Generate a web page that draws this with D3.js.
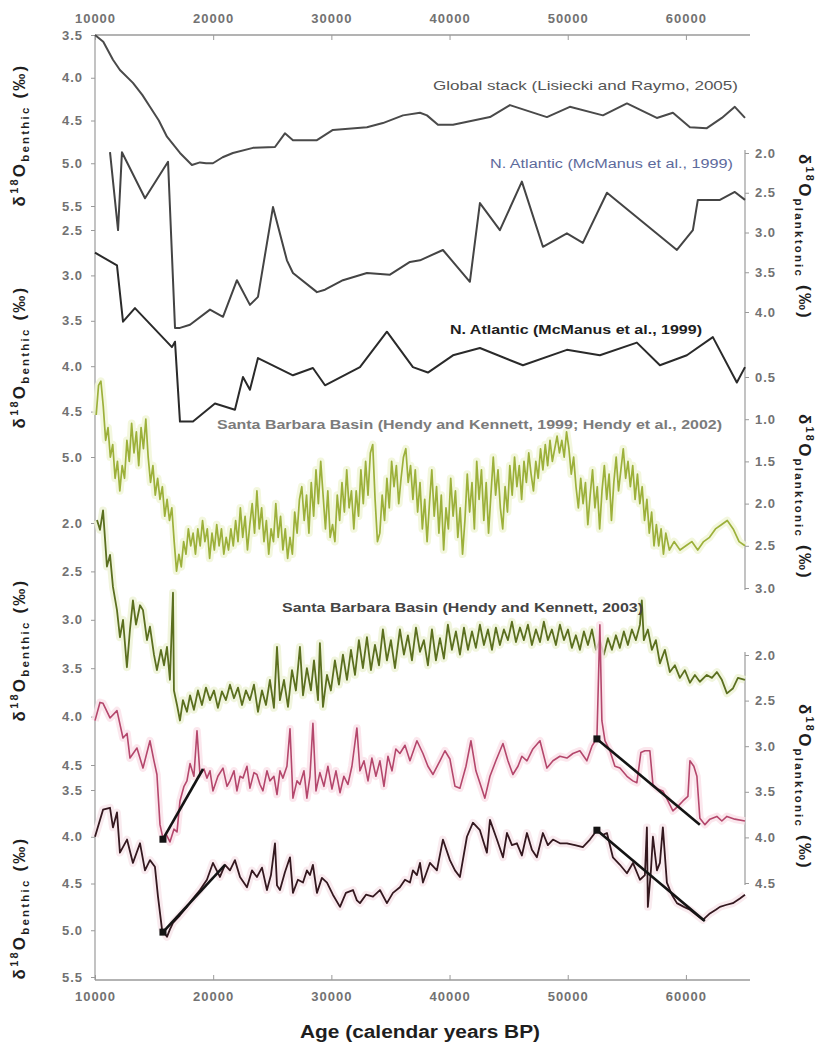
<!DOCTYPE html>
<html><head><meta charset="utf-8">
<script src="https://cdn.jsdelivr.net/npm/d3@7"></script>
<style>body{margin:0;background:#fff}svg{display:block}</style>
</head><body>
<svg id="chart" width="822" height="1046"></svg>
<script>
// ---------------- DATA ----------------
const ageTicks = [10000, 20000, 30000, 40000, 50000, 60000];
const ticksP1 = [3.5, 4.0, 4.5, 5.0, 5.5];
const ticksP2 = [2.0, 2.5, 3.0, 3.5, 4.0];
const ticksP3 = [2.5, 3.0, 3.5, 4.0, 4.5, 5.0];
const ticksP4 = [0.5, 1.0, 1.5, 2.0, 2.5, 3.0];
const ticksP5 = [2.0, 2.5, 3.0, 3.5, 4.0, 4.5];
const ticksP6 = [2.0, 2.5, 3.0, 3.5, 4.0, 4.5];
const ticksP7 = [3.5, 4.0, 4.5, 5.0, 5.5];

const labels = [
  "Global stack (Lisiecki and Raymo, 2005)",
  "N. Atlantic (McManus et al., 1999)",
  "N. Atlantic (McManus et al., 1999)",
  "Santa Barbara Basin (Hendy and Kennett, 1999; Hendy et al., 2002)",
  "Santa Barbara Basin (Hendy and Kennett, 2003)"
];

// Global stack benthic (age, ‰)
const globalStack = [[10000,3.5],[10700,3.58],[11520,3.79],[12110,3.91],[13210,4.06],[14000,4.2],[14650,4.34],[15400,4.5],[16090,4.69],[17190,4.88],[18200,5.02],[18880,4.99],[19400,5.0],[19980,5.0],[20800,4.93],[21670,4.88],[23370,4.82],[25230,4.81],[26070,4.65],[26750,4.73],[28780,4.73],[30130,4.61],[33010,4.58],[34360,4.53],[36060,4.44],[37500,4.41],[38090,4.44],[39020,4.55],[40290,4.55],[43420,4.46],[45110,4.32],[48240,4.46],[50180,4.34],[52980,4.44],[55010,4.30],[57540,4.47],[58900,4.41],[60340,4.58],[61770,4.59],[63040,4.47],[64140,4.34],[65000,4.47]];

// N. Atlantic planktonic
const natlPlank = [[11270,1.99],[11950,2.97],[12280,1.99],[14230,2.57],[16180,2.11],[16770,4.20],[17190,4.20],[18040,4.16],[19730,3.97],[20830,4.06],[22010,3.60],[23110,3.91],[23790,3.81],[25060,2.68],[26240,3.35],[26750,3.51],[28780,3.75],[29460,3.72],[30980,3.60],[33010,3.51],[34960,3.53],[36650,3.37],[37500,3.35],[39440,3.22],[41720,3.62],[42570,2.63],[44260,2.97],[46120,2.36],[47900,3.18],[49930,3.01],[51280,3.13],[53320,2.50],[59240,3.22],[60590,2.97],[61010,2.59],[62880,2.59],[64140,2.49],[65000,2.59]];

// N. Atlantic benthic
const natlBenth = [[10000,2.75],[11860,2.89],[12370,3.51],[13380,3.36],[16510,3.79],[16770,3.73],[17190,4.61],[18290,4.61],[20150,4.41],[21840,4.48],[22520,4.12],[23110,4.26],[23790,3.91],[26750,4.10],[28440,4.02],[29460,4.21],[32420,4.01],[34700,3.62],[36900,4.01],[38170,4.07],[40290,3.88],[42570,3.80],[46210,3.99],[49930,3.82],[52720,3.88],[55850,3.74],[57800,3.99],[60080,3.88],[62280,3.68],[64310,4.18],[65000,4.01]];

// Santa Barbara Basin planktonic (1999/2002)
const sbbPlank = [[10100,0.95],[10300,0.6],[10500,0.55],[10700,0.85],[10900,1.25],[11100,1.1],[11300,1.45],[11500,1.3],[11700,1.7],[11900,1.5],[12100,1.85],[12300,1.55],[12500,1.7],[12700,1.25],[12900,1.5],[13100,1.05],[13300,1.4],[13500,1.15],[13700,1.55],[13900,1.1],[14100,1.35],[14300,1.0],[14500,1.45],[14700,1.75],[14900,1.55],[15100,1.9],[15300,1.7],[15500,1.95],[15700,1.8],[15900,2.15],[16100,1.95],[16300,2.2],[16500,2.05],[16700,2.45],[16900,2.8],[17100,2.6],[17300,2.75],[17500,2.45],[17700,2.6],[17900,2.3],[18100,2.5],[18300,2.35],[18500,2.6],[18700,2.3],[18900,2.5],[19100,2.2],[19300,2.45],[19500,2.3],[19700,2.65],[19900,2.35],[20100,2.55],[20300,2.25],[20500,2.5],[20700,2.3],[20900,2.6],[21100,2.4],[21300,2.55],[21500,2.3],[21700,2.5],[21900,2.2],[22100,2.45],[22300,2.05],[22500,2.4],[22700,2.15],[22900,2.55],[23100,2.25],[23300,2.0],[23500,2.35],[23700,1.85],[23900,2.3],[24100,2.05],[24300,2.45],[24500,2.2],[24700,2.6],[24900,2.3],[25100,2.45],[25300,2.0],[25500,2.4],[25700,2.15],[25900,2.55],[26100,2.3],[26300,2.65],[26500,2.4],[26700,2.6],[26900,2.1],[27100,2.35],[27300,1.95],[27500,1.8],[27700,2.2],[27900,1.9],[28100,2.35],[28300,1.75],[28500,2.15],[28700,1.6],[28900,2.0],[29100,1.5],[29300,1.9],[29500,2.3],[29700,1.85],[29900,2.4],[30100,2.25],[30300,2.45],[30500,1.9],[30700,2.2],[30900,1.75],[31100,2.1],[31300,1.6],[31500,2.05],[31700,1.85],[31900,2.3],[32100,1.85],[32300,2.15],[32500,1.6],[32700,2.0],[32900,1.5],[33100,1.9],[33300,1.4],[33500,1.3],[33700,1.95],[33900,2.45],[34100,2.35],[34300,1.9],[34500,2.2],[34700,1.7],[34900,2.05],[35100,1.5],[35300,1.8],[35500,1.55],[35700,2.0],[35900,1.7],[36100,1.45],[36300,1.35],[36500,1.75],[36700,1.55],[36900,1.95],[37100,1.6],[37300,2.1],[37500,1.75],[37700,2.3],[37900,1.95],[38100,2.45],[38300,2.0],[38500,1.6],[38700,2.15],[38900,1.8],[39100,2.35],[39300,1.9],[39500,2.55],[39700,2.05],[39900,2.3],[40100,1.7],[40300,2.15],[40500,1.85],[40700,2.4],[40900,2.05],[41100,2.6],[41300,2.2],[41500,1.65],[41700,2.1],[41900,1.75],[42100,2.3],[42300,1.5],[42500,1.95],[42700,1.6],[42900,2.2],[43100,1.75],[43300,2.35],[43500,1.9],[43700,1.45],[43900,1.9],[44100,1.6],[44300,2.05],[44500,2.3],[44700,1.8],[44900,2.1],[45100,1.55],[45300,1.9],[45500,1.45],[45700,1.8],[45900,1.55],[46100,1.95],[46300,1.5],[46500,1.75],[46700,1.4],[46900,1.65],[47100,1.85],[47300,1.5],[47500,1.7],[47700,1.35],[47900,1.6],[48100,1.3],[48300,1.55],[48500,1.25],[48700,1.5],[48900,1.35],[49100,1.2],[49300,1.4],[49500,1.25],[49700,1.45],[49900,1.15],[50100,1.35],[50300,1.65],[50500,1.45],[50700,1.8],[50900,2.05],[51100,1.7],[51300,2.0],[51500,1.75],[51700,2.25],[51900,1.9],[52100,1.6],[52300,2.05],[52500,1.8],[52700,2.3],[52900,1.85],[53100,1.55],[53300,1.95],[53500,1.65],[53700,2.2],[53900,1.75],[54100,1.45],[54300,1.85],[54500,1.6],[54700,1.35],[54900,1.7],[55100,1.5],[55300,1.8],[55500,1.55],[55700,1.95],[55900,1.65],[56100,2.0],[56300,1.8],[56500,2.2],[56700,1.95],[56900,2.35],[57100,2.1],[57300,2.5],[57500,2.25],[57700,2.5],[57900,2.3],[58100,2.6],[58300,2.35],[58600,2.55],[59000,2.45],[59500,2.55],[60000,2.5],[60500,2.45],[61000,2.55],[61500,2.45],[62000,2.4],[62500,2.3],[63000,2.25],[63500,2.2],[64000,2.3],[64500,2.45],[65000,2.5]];

// Santa Barbara Basin benthic (2003)
const sbbBenth = [[10170,1.97],[10420,2.07],[10680,1.87],[11010,2.45],[11270,2.33],[11520,2.66],[11860,2.9],[12110,3.18],[12370,3.0],[12700,3.49],[12960,3.1],[13210,2.8],[13470,3.05],[13810,2.85],[14060,2.9],[14400,3.21],[14650,3.07],[14990,3.36],[15240,3.52],[15580,3.31],[15840,3.47],[16090,3.28],[16340,3.62],[16600,2.72],[16680,3.73],[16940,3.88],[17190,4.04],[17440,3.83],[17780,3.95],[18040,3.78],[18370,3.93],[18710,3.73],[19050,3.88],[19390,3.70],[19730,3.83],[20070,3.73],[20400,3.91],[20740,3.74],[21080,3.83],[21420,3.67],[21760,3.81],[22100,3.70],[22440,3.88],[22770,3.73],[23110,3.83],[23450,3.67],[23790,3.95],[24130,3.73],[24470,3.88],[24800,3.62],[25140,3.91],[25400,3.28],[25650,3.83],[25990,3.62],[26330,3.90],[26670,3.52],[27000,3.73],[27340,3.28],[27600,3.78],[27930,3.50],[28270,3.73],[28530,3.42],[28870,3.83],[29030,3.24],[29290,3.90],[29630,3.57],[29960,3.73],[30300,3.42],[30640,3.67],[30980,3.36],[31320,3.62],[31660,3.31],[32000,3.57],[32330,3.21],[32670,3.50],[33010,3.18],[33350,3.52],[33690,3.26],[34030,3.47],[34360,3.1],[34700,3.42],[35040,3.21],[35380,3.50],[35800,3.1],[36140,3.36],[36480,3.16],[36820,3.42],[37160,3.08],[37500,3.33],[37830,3.21],[38170,3.47],[38510,3.1],[38850,3.42],[39190,3.19],[39520,3.40],[39860,3.05],[40200,3.31],[40540,3.12],[40880,3.36],[41220,3.08],[41560,3.31],[41900,3.12],[42230,3.29],[42570,3.05],[42910,3.26],[43250,3.1],[43590,3.31],[43920,3.08],[44260,3.26],[44600,3.1],[44940,3.21],[45280,3.02],[45620,3.23],[45960,3.08],[46290,3.21],[46630,3.05],[46970,3.26],[47310,3.1],[47650,3.23],[47980,3.02],[48320,3.21],[48660,3.1],[49000,3.26],[49340,3.05],[49680,3.21],[50020,3.1],[50350,3.29],[50690,3.16],[51030,3.31],[51370,3.12],[51710,3.26],[52050,3.1],[52390,3.31],[52720,3.21],[53060,3.36],[53400,3.19],[53740,3.31],[54080,3.16],[54410,3.29],[54750,3.12],[55090,3.26],[55430,3.1],[55770,3.21],[56110,3.05],[56270,2.80],[56440,3.21],[56780,3.1],[57120,3.31],[57460,3.21],[57800,3.45],[58220,3.31],[58640,3.54],[59070,3.47],[59490,3.60],[59910,3.52],[60340,3.65],[60760,3.57],[61180,3.64],[61770,3.57],[62200,3.60],[62620,3.54],[63040,3.62],[63470,3.76],[63970,3.71],[64400,3.60],[65000,3.62]];

// Santa Barbara Basin planktonic (pink)
const sbbPlank2 = [[10000,2.72],[10420,2.52],[10680,2.53],[11270,2.69],[11860,2.61],[12370,2.91],[12710,2.86],[12960,3.13],[13550,3.02],[14060,3.24],[14650,2.94],[14990,3.16],[15240,3.31],[15500,3.86],[15750,4.01],[16000,3.96],[16340,4.05],[16680,3.91],[16940,3.94],[17190,3.60],[17530,3.44],[17780,3.38],[18040,3.19],[18370,3.33],[18630,2.83],[18880,3.31],[19220,3.25],[19470,3.35],[19730,3.27],[19980,3.49],[20400,3.33],[20830,3.24],[21170,3.44],[21420,3.38],[21760,3.27],[22010,3.49],[22270,3.33],[22520,3.35],[22860,3.22],[23110,3.46],[23450,3.29],[23700,3.31],[23960,3.42],[24210,3.49],[24550,3.27],[24800,3.38],[25140,3.33],[25400,3.53],[25650,3.27],[25900,3.35],[26240,3.22],[26500,2.81],[26750,3.57],[27090,3.38],[27340,3.42],[27680,3.27],[27930,3.57],[28190,3.33],[28440,2.75],[28700,3.49],[29030,3.29],[29370,3.44],[29710,3.22],[30050,3.47],[30390,3.27],[30730,3.51],[31060,3.33],[31400,3.42],[31740,3.22],[32160,2.80],[32420,3.27],[32760,3.16],[33100,3.38],[33430,3.13],[33770,3.33],[34110,3.16],[34450,3.44],[34790,3.11],[35130,3.27],[35460,3.03],[35800,3.08],[36230,2.99],[36650,3.16],[37240,2.94],[37750,3.08],[38170,3.22],[38600,3.31],[39190,3.16],[39610,3.05],[40030,3.14],[40460,3.44],[40880,3.46],[41390,3.22],[41810,2.94],[42230,3.27],[42660,3.44],[42990,3.57],[43420,3.33],[43920,3.16],[44520,2.97],[44940,3.16],[45360,3.31],[45790,3.22],[46120,3.11],[46550,3.16],[47050,3.03],[47650,2.94],[48240,3.24],[48750,3.16],[49340,3.11],[49930,3.13],[50440,3.08],[51030,3.05],[51620,3.16],[52050,3.0],[52470,2.91],[52720,1.67],[52890,2.72],[53150,2.94],[53570,3.05],[53990,3.22],[54420,3.24],[55010,3.33],[55510,3.38],[55850,3.40],[56190,3.07],[56530,3.05],[56950,3.05],[57210,3.42],[57630,3.47],[58050,3.49],[58480,3.60],[58900,3.71],[59320,3.66],[59750,3.60],[60170,3.55],[60340,3.16],[60670,3.22],[60930,3.33],[61180,3.79],[61610,3.86],[62030,3.80],[62620,3.77],[63040,3.82],[63470,3.77],[64140,3.80],[65000,3.82]];

// Santa Barbara Basin benthic (black)
const sbbBenth2 = [[10000,4.0],[10680,3.71],[11270,3.69],[11520,3.90],[11860,3.74],[12110,4.17],[12710,4.03],[13210,4.28],[13810,4.07],[14230,4.36],[14650,4.25],[15070,4.32],[15330,4.64],[15670,4.99],[16090,5.07],[16340,4.99],[16600,4.92],[17190,4.84],[17780,4.75],[18290,4.66],[18880,4.57],[19470,4.46],[19980,4.28],[20570,4.43],[21000,4.30],[21420,4.36],[21840,4.25],[22270,4.43],[22860,4.54],[23280,4.36],[23700,4.43],[24130,4.33],[24550,4.57],[24890,4.41],[25230,4.07],[25400,4.52],[25650,4.57],[26070,4.38],[26500,4.22],[26750,4.60],[27170,4.46],[27600,4.49],[27930,4.36],[28190,4.41],[28440,4.30],[28780,4.60],[29200,4.44],[29630,4.49],[30130,4.62],[30730,4.75],[31230,4.60],[31830,4.57],[32160,4.68],[32420,4.71],[32930,4.62],[33520,4.64],[34110,4.57],[34700,4.71],[35210,4.60],[35800,4.54],[36230,4.46],[36650,4.49],[36900,4.36],[37240,4.41],[37500,4.28],[37750,4.49],[38340,4.28],[38930,4.36],[39440,4.03],[40030,4.25],[40460,4.36],[40880,4.43],[41470,4.0],[41980,3.85],[42570,3.93],[43160,4.17],[43420,3.82],[44010,4.03],[44520,4.22],[44860,3.96],[45280,4.09],[45700,4.07],[46120,4.20],[46550,3.96],[46970,4.14],[47390,4.22],[47900,3.96],[48320,4.09],[48750,4.03],[49340,4.07],[49930,4.07],[50610,4.09],[51280,4.11],[51880,4.03],[52470,3.93],[52980,3.98],[53320,3.96],[53820,4.22],[54420,4.30],[55010,4.39],[55520,4.28],[56110,4.46],[56530,4.41],[56700,3.90],[56780,4.75],[57040,4.36],[57210,4.0],[57550,4.36],[57800,4.28],[58050,3.90],[58390,4.49],[58810,4.62],[59240,4.71],[59830,4.75],[60340,4.78],[60930,4.84],[61440,4.89],[62030,4.82],[62530,4.78],[62880,4.75],[63380,4.73],[63970,4.71],[64570,4.66],[65000,4.62]];

// Trend lines (start point marked)
const trendPlank = [[[15750,4.02],[19140,3.25]], [[52470,2.92],[61180,3.86]]];
const trendBenth = [[[15750,5.02],[21000,4.30]], [[52470,3.93],[61600,4.90]]];

// ---------------- DRAWING ----------------
const svg = d3.select("#chart");
const x = d3.scaleLinear().domain([10000, 65000]).range([95, 745]);

const yP1 = d3.scaleLinear().domain([3.5, 5.5]).range([35, 206]);
const yP2 = d3.scaleLinear().domain([2.0, 4.0]).range([153, 312]);
const yP3 = d3.scaleLinear().domain([2.5, 5.0]).range([230, 457]);
const yP4 = d3.scaleLinear().domain([0.5, 3.0]).range([377, 588]);
const yP5 = d3.scaleLinear().domain([2.0, 4.5]).range([523, 765]);
const yP6 = d3.scaleLinear().domain([2.0, 4.5]).range([655, 883]);
const yP7 = d3.scaleLinear().domain([3.5, 5.5]).range([790, 977]);

const font = "Liberation Sans, Arial, sans-serif";
const tickColor = "#727272";
function styleAxis(g){
  g.selectAll("text").attr("fill", tickColor).attr("font-family",font)
   .attr("font-size", 13).attr("font-weight","bold").attr("letter-spacing", 1);
  g.selectAll("line").attr("stroke","#9a9a9a");
  g.select(".domain").remove();
}
const fmt = d3.format(".1f");

// left axes
[[yP1,ticksP1],[yP3,ticksP3],[yP5,ticksP5],[yP7,ticksP7]].forEach(([s,t])=>{
  svg.append("g").attr("transform","translate(95,0)")
    .call(d3.axisLeft(s).tickValues(t).tickFormat(fmt).tickSize(4).tickPadding(8))
    .call(styleAxis);
});
// right axes
[[yP2,ticksP2],[yP4,ticksP4],[yP6,ticksP6]].forEach(([s,t])=>{
  svg.append("g").attr("transform","translate(745,0)")
    .call(d3.axisRight(s).tickValues(t).tickFormat(fmt).tickSize(4).tickPadding(6))
    .call(styleAxis);
});
// axis lines
svg.append("line").attr("x1",95).attr("x2",95).attr("y1",35).attr("y2",980).attr("stroke","#9a9a9a").attr("stroke-width",1.2);
svg.append("line").attr("x1",745).attr("x2",745).attr("y1",yP2.range()[0]-3).attr("y2",yP4.range()[1]+2).attr("stroke","#9a9a9a").attr("stroke-width",1.2);
svg.append("line").attr("x1",745).attr("x2",745).attr("y1",yP6.range()[0]-3).attr("y2",yP6.range()[1]+2).attr("stroke","#9a9a9a").attr("stroke-width",1.2);

// top / bottom age axes
svg.append("g").attr("transform","translate(0,35)")
  .call(d3.axisTop(x).tickValues(ageTicks).tickFormat(d3.format("d")).tickSizeInner(-5).tickSizeOuter(0).tickPadding(12))
  .call(styleAxis);
svg.append("line").attr("x1",95).attr("x2",750).attr("y1",35).attr("y2",35).attr("stroke","#9a9a9a").attr("stroke-width",1.5);
svg.append("g").attr("transform","translate(0,980)")
  .call(d3.axisBottom(x).tickValues(ageTicks).tickFormat(d3.format("d")).tickSizeInner(-5).tickSizeOuter(0).tickPadding(12))
  .call(styleAxis);
svg.append("line").attr("x1",95).attr("x2",750).attr("y1",980).attr("y2",980).attr("stroke","#9a9a9a").attr("stroke-width",1.5);

// series
function drawSeries(data, ys, color, width, halo){
  const line = d3.line().x(d=>x(d[0])).y(d=>ys(d[1]));
  if (halo) svg.append("path").datum(data).attr("d",line).attr("fill","none")
      .attr("stroke",halo).attr("stroke-width",width+6).attr("stroke-linejoin","round").attr("opacity",0.8);
  svg.append("path").datum(data).attr("d",line).attr("fill","none")
    .attr("stroke",color).attr("stroke-width",width).attr("stroke-linejoin","round");
}
drawSeries(sbbPlank, yP4, "#9cb03a", 1.7, "#f0f5d6");
drawSeries(sbbBenth, yP5, "#5b6f1f", 1.8, "#eef2d6");
drawSeries(sbbPlank2, yP6, "#b4476c", 1.6, "#fae1e8");
drawSeries(sbbBenth2, yP7, "#34181f", 1.8, "#f7e6eb");
drawSeries(globalStack, yP1, "#4a4a4a", 2);
drawSeries(natlPlank, yP2, "#444", 2);
drawSeries(natlBenth, yP3, "#2a2a2a", 2);

// trend lines
function drawTrends(trends, ys){
  trends.forEach(seg=>{
    svg.append("line").attr("x1",x(seg[0][0])).attr("y1",ys(seg[0][1]))
      .attr("x2",x(seg[1][0])).attr("y2",ys(seg[1][1]))
      .attr("stroke","#141414").attr("stroke-width",2.6);
    svg.append("rect").attr("x",x(seg[0][0])-3.5).attr("y",ys(seg[0][1])-3.5)
      .attr("width",7).attr("height",7).attr("fill","#141414");
  });
}
drawTrends(trendPlank, yP6);
drawTrends(trendBenth, yP7);

// series labels
function label(txt, xPos, yPos, anchor, color, weight, size, len){
  const t = svg.append("text").attr("x",xPos).attr("y",yPos).attr("text-anchor",anchor)
    .attr("font-family",font).attr("font-size",size).attr("font-weight",weight).attr("fill",color).text(txt);
  if (len) t.attr("textLength",len).attr("lengthAdjust","spacingAndGlyphs");
}
label(labels[0], 433, 90, "start", "#555", "normal", 13, 305);
label(labels[1], 490, 168, "start", "#5d6a9c", "normal", 12.5, 243);
label(labels[2], 450, 334, "start", "#1e1e1e", "bold", 12, 252);
label(labels[3], 217, 429, "start", "#7b7b7b", "bold", 12.5, 505);
label(labels[4], 282, 612, "start", "#444", "bold", 12, 361);

// axis titles
function yTitle(cx, cy, rot, sub){
  const t = svg.append("text").attr("transform",`translate(${cx},${cy}) rotate(${rot})`)
    .attr("text-anchor","middle").attr("font-family",font).attr("font-weight","bold")
    .attr("font-size",17).attr("fill","#1e1e1e").attr("letter-spacing",2.2);
  t.append("tspan").text("δ");
  t.append("tspan").attr("font-size",11).attr("dy",-7).text("18");
  t.append("tspan").attr("dy",7).text("O");
  t.append("tspan").attr("font-size",11.5).attr("dy",4).text(sub);
  t.append("tspan").attr("dy",-4).text(" (‰)");
}
[135, 357, 650, 908].forEach(cy=>yTitle(25, cy, -90, "benthic"));
[237, 497, 787].forEach(cy=>yTitle(799, cy, 90, "planktonic"));

svg.append("text").attr("x",420).attr("y",1038).attr("text-anchor","middle")
  .attr("font-family",font).attr("font-weight","bold").attr("font-size",18).attr("fill","#1e1e1e")
  .attr("textLength",240).attr("lengthAdjust","spacingAndGlyphs")
  .text("Age (calendar years BP)");
</script>
</body></html>
